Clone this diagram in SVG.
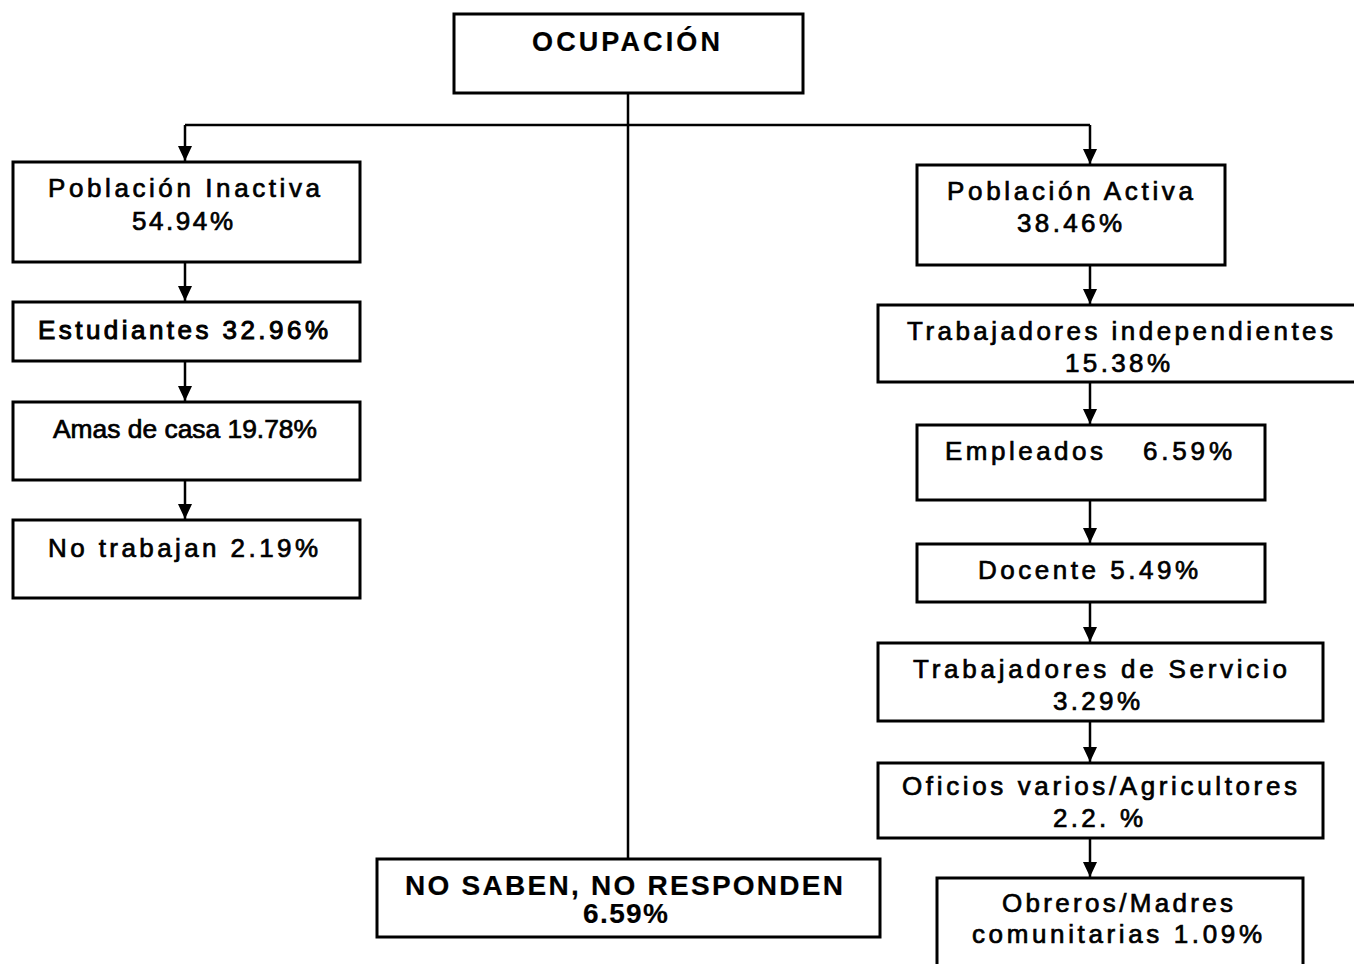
<svg xmlns="http://www.w3.org/2000/svg" width="1354" height="964" viewBox="0 0 1354 964">
<style>
.box{fill:#fff;stroke:#000;stroke-width:3}
.t{font-family:"Liberation Sans",Arial,sans-serif;font-size:26px;fill:#000;stroke:#000;stroke-width:0.7}
.b{font-weight:bold;font-size:27px;stroke-width:0.2}
.c{fill:none;stroke:#000;stroke-width:2.5}
</style>
<defs>
<marker id="ah" markerUnits="userSpaceOnUse" viewBox="0 0 15 14" markerWidth="15" markerHeight="14" refX="15" refY="7" orient="auto">
<path d="M0,0 L15,7 L0,14 z" fill="#000"/>
</marker>
</defs>
<rect width="1354" height="964" fill="#fff"/>
<g id="connectors">
<path class="c" d="M628,93 V858"/>
<path class="c" d="M185,125 H1090"/>
<path class="c" d="M185,125 V161" marker-end="url(#ah)"/>
<path class="c" d="M1090,125 V164" marker-end="url(#ah)"/>
<path class="c" d="M185,262 V301" marker-end="url(#ah)"/>
<path class="c" d="M185,361 V401" marker-end="url(#ah)"/>
<path class="c" d="M185,480 V519" marker-end="url(#ah)"/>
<path class="c" d="M1090,265 V304" marker-end="url(#ah)"/>
<path class="c" d="M1090,382 V424" marker-end="url(#ah)"/>
<path class="c" d="M1090,500 V543" marker-end="url(#ah)"/>
<path class="c" d="M1090,602 V642" marker-end="url(#ah)"/>
<path class="c" d="M1090,721 V762" marker-end="url(#ah)"/>
<path class="c" d="M1090,838 V877" marker-end="url(#ah)"/>
</g>
<g id="ocupacion">
<rect class="box" x="454" y="14" width="349" height="79"/>
<text class="t b" x="532" y="51" textLength="188" lengthAdjust="spacing">OCUPACIÓN</text>
</g>
<g id="inactiva">
<rect class="box" x="13" y="162" width="347" height="100"/>
<text class="t" x="48" y="197" textLength="272" lengthAdjust="spacing">Población Inactiva</text>
<text class="t" x="132" y="230" textLength="101" lengthAdjust="spacing">54.94%</text>
</g>
<g id="estudiantes">
<rect class="box" x="13" y="302" width="347" height="59"/>
<text class="t" style="stroke-width:1" x="38" y="339" textLength="290" lengthAdjust="spacing">Estudiantes 32.96%</text>
</g>
<g id="amas">
<rect class="box" x="13" y="402" width="347" height="78"/>
<text class="t" style="font-size:26px" x="53" y="438" textLength="264" lengthAdjust="spacingAndGlyphs">Amas de casa 19.78%</text>
</g>
<g id="notrabajan">
<rect class="box" x="13" y="520" width="347" height="78"/>
<text class="t" x="48" y="557" textLength="270" lengthAdjust="spacing">No trabajan 2.19%</text>
</g>
<g id="activa">
<rect class="box" x="917" y="165" width="308" height="100"/>
<text class="t" x="947" y="200" textLength="246" lengthAdjust="spacing">Población Activa</text>
<text class="t" x="1017" y="232" textLength="105" lengthAdjust="spacing">38.46%</text>
</g>
<g id="independientes">
<rect class="box" x="878" y="305" width="480" height="77"/>
<text class="t" x="907" y="340" textLength="426" lengthAdjust="spacing">Trabajadores independientes</text>
<text class="t" x="1065" y="372" textLength="105" lengthAdjust="spacing">15.38%</text>
</g>
<g id="empleados">
<rect class="box" x="917" y="425" width="348" height="75"/>
<text class="t" x="945" y="460" textLength="158" lengthAdjust="spacing">Empleados</text>
<text class="t" x="1143" y="460" textLength="89" lengthAdjust="spacing">6.59%</text>
</g>
<g id="docente">
<rect class="box" x="917" y="544" width="348" height="58"/>
<text class="t" x="978" y="579" textLength="220" lengthAdjust="spacing">Docente 5.49%</text>
</g>
<g id="servicio">
<rect class="box" x="878" y="643" width="445" height="78"/>
<text class="t" x="913" y="678" textLength="374" lengthAdjust="spacing">Trabajadores de Servicio</text>
<text class="t" x="1053" y="710" textLength="87" lengthAdjust="spacing">3.29%</text>
</g>
<g id="oficios">
<rect class="box" x="878" y="763" width="445" height="75"/>
<text class="t" x="902" y="795" textLength="395" lengthAdjust="spacing">Oficios varios/Agricultores</text>
<text class="t" x="1053" y="827" textLength="90" lengthAdjust="spacing">2.2. %</text>
</g>
<g id="obreros">
<rect class="box" x="937" y="878" width="366" height="100"/>
<text class="t" x="1002" y="912" textLength="231" lengthAdjust="spacing">Obreros/Madres</text>
<text class="t" x="972" y="943" textLength="290" lengthAdjust="spacing">comunitarias 1.09%</text>
</g>
<g id="nosaben">
<rect class="box" x="377" y="859" width="503" height="78"/>
<text class="t b" style="font-size:28px" x="405" y="895" textLength="438" lengthAdjust="spacing">NO SABEN, NO RESPONDEN</text>
<text class="t b" style="font-size:28px" x="583" y="923" textLength="85" lengthAdjust="spacing">6.59%</text>
</g>
</svg>
